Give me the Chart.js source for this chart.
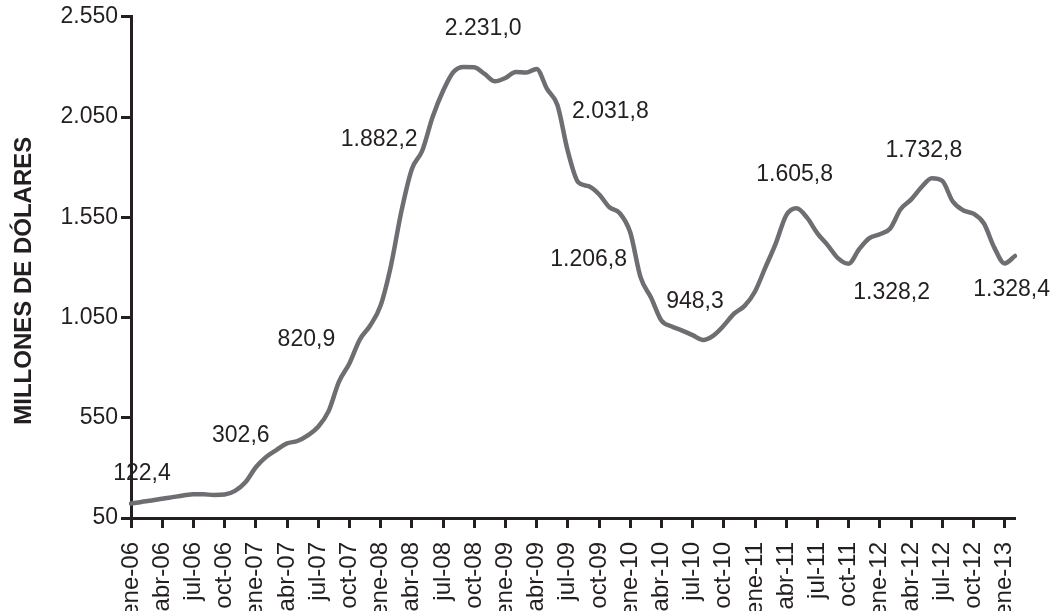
<!DOCTYPE html>
<html>
<head>
<meta charset="utf-8">
<script src="https://cdn.jsdelivr.net/npm/chart.js@4.4.1/dist/chart.umd.min.js"></script>
<style>
  html, body { margin: 0; padding: 0; background: #ffffff; }
  #wrap { width: 1052px; height: 611px; position: relative; }
</style>
</head>
<body>
<div id="wrap"><canvas id="c" width="1052" height="611"></canvas></div>
<script>
// ---- DATA ----
const monthNames = ['ene','feb','mar','abr','may','jun','jul','ago','sep','oct','nov','dic'];
const years = ['06','07','08','09','10','11','12','13'];
const months = [];
years.forEach(y => monthNames.forEach(m => months.push(m + '-' + y)));
const categories = months.slice(0, 86); // ene-06 .. feb-13

// Monthly values (millones de dólares)
const values = [
  122, 130, 137, 146, 154, 162, 169, 168, 165, 167, 185, 228,        // 2006
  303, 355, 390, 422, 434, 462, 505, 583, 730, 821, 940, 1010,       // 2007
  1110, 1310, 1580, 1790, 1882, 2050, 2180, 2275, 2300, 2298, 2265, 2228, // 2008
  2245, 2275, 2272, 2290, 2190, 2110, 1880, 1725, 1705, 1665, 1600, 1570, // 2009
  1475, 1250, 1150, 1035, 1005, 985, 962, 938, 960, 1010, 1070, 1108,     // 2010
  1180, 1300, 1420, 1560, 1595, 1548, 1470, 1410, 1345, 1318, 1390, 1446, // 2011
  1465, 1494, 1590, 1638, 1700, 1745, 1732, 1630, 1585, 1568, 1520, 1400, // 2012
  1320, 1357                                                             // 2013
];

// Quarterly tick labels shown on the x axis
const tickLabels = ['ene-06','abr-06','jul-06','oct-06','ene-07','abr-07','jul-07','oct-07',
  'ene-08','abr-08','jul-08','oct-08','ene-09','abr-09','jul-09','oct-09',
  'ene-10','abr-10','jul-10','oct-10','ene-11','abr-11','jul-11','oct-11',
  'ene-12','abr-12','jul-12','oct-12','ene-13'];

// Annotated values
const noteMonths = ['ene-06','ene-07','oct-07','may-08','oct-08','jun-09','feb-10','ago-10','may-11','oct-11','jun-12','ene-13'];
const noteTexts  = ['122,4','302,6','820,9','1.882,2','2.231,0','2.031,8','1.206,8','948,3','1.605,8','1.328,2','1.732,8','1.328,4'];

// y ticks
const yMin = 50, yMax = 2550, yStep = 500;

// ---- STYLE (label offsets in px, relative to the data point) ----
const noteOffsets = [[11,-30],[-15,-32],[-43,-24],[-43,-11],[9,-39],[53,7],[-52,-18],[-8,-38],[-2,-34],[43,29],[-8,-28],[7,26]];

const FONT = "'Liberation Sans', Arial, Helvetica, sans-serif";
const INK = '#231f20';

function fmtThousands(v) {
  const s = String(Math.round(v));
  return s.replace(/\B(?=(\d{3})+(?!\d))/g, '.');
}

const notesPlugin = {
  id: 'notes',
  afterDatasetsDraw(chart) {
    const ctx = chart.ctx;
    const xs = chart.scales.x, ys = chart.scales.y;
    ctx.save();
    ctx.font = '23px ' + FONT;
    ctx.fillStyle = INK;
    ctx.textAlign = 'center';
    ctx.textBaseline = 'middle';
    noteMonths.forEach((m, i) => {
      const idx = categories.indexOf(m);
      const px = xs.getPixelForValue(idx);
      const py = ys.getPixelForValue(values[idx]);
      ctx.fillText(noteTexts[i], px + noteOffsets[i][0], py + noteOffsets[i][1]);
    });
    ctx.restore();
  }
};

new Chart(document.getElementById('c'), {
  type: 'line',
  data: {
    labels: categories,
    datasets: [{
      data: values,
      borderColor: '#6d6e71',
      borderWidth: 4.5,
      pointRadius: 0,
      fill: false,
      cubicInterpolationMode: 'monotone',
      borderCapStyle: 'round',
      borderJoinStyle: 'round'
    }]
  },
  options: {
    responsive: false,
    animation: false,
    devicePixelRatio: 1,
    layout: { padding: { top: 14, right: 37, left: 0, bottom: 0 } },
    plugins: { legend: { display: false }, tooltip: { enabled: false } },
    scales: {
      x: {
        type: 'category',
        offset: false,
        afterFit(scale) { scale.height = 93; },
        border: { color: INK, width: 3 },
        grid: { drawOnChartArea: false, drawTicks: true, tickLength: 10, tickWidth: 3, tickColor: INK },
        ticks: {
          autoSkip: false,
          maxRotation: 90,
          minRotation: 90,
          padding: 14,
          color: INK,
          font: { family: FONT, size: 24 },
          callback(value) {
            const lab = categories[value];
            return tickLabels.includes(lab) ? lab : null;
          }
        }
      },
      y: {
        min: yMin,
        max: yMax,
        afterFit(scale) { scale.width = 131; },
        border: { color: INK, width: 3 },
        grid: { drawOnChartArea: false, drawTicks: true, tickLength: 10, tickWidth: 3, tickColor: INK },
        ticks: {
          stepSize: yStep,
          padding: 3,
          color: INK,
          font: { family: FONT, size: 23 },
          callback(v) { return fmtThousands(v); }
        },
        title: {
          display: true,
          text: 'MILLONES DE DÓLARES    ',
          color: INK,
          font: { family: FONT, size: 24, weight: 'bold' },
          padding: { top: 10, bottom: 0 }
        }
      }
    }
  },
  plugins: [notesPlugin]
});
</script>
</body>
</html>
